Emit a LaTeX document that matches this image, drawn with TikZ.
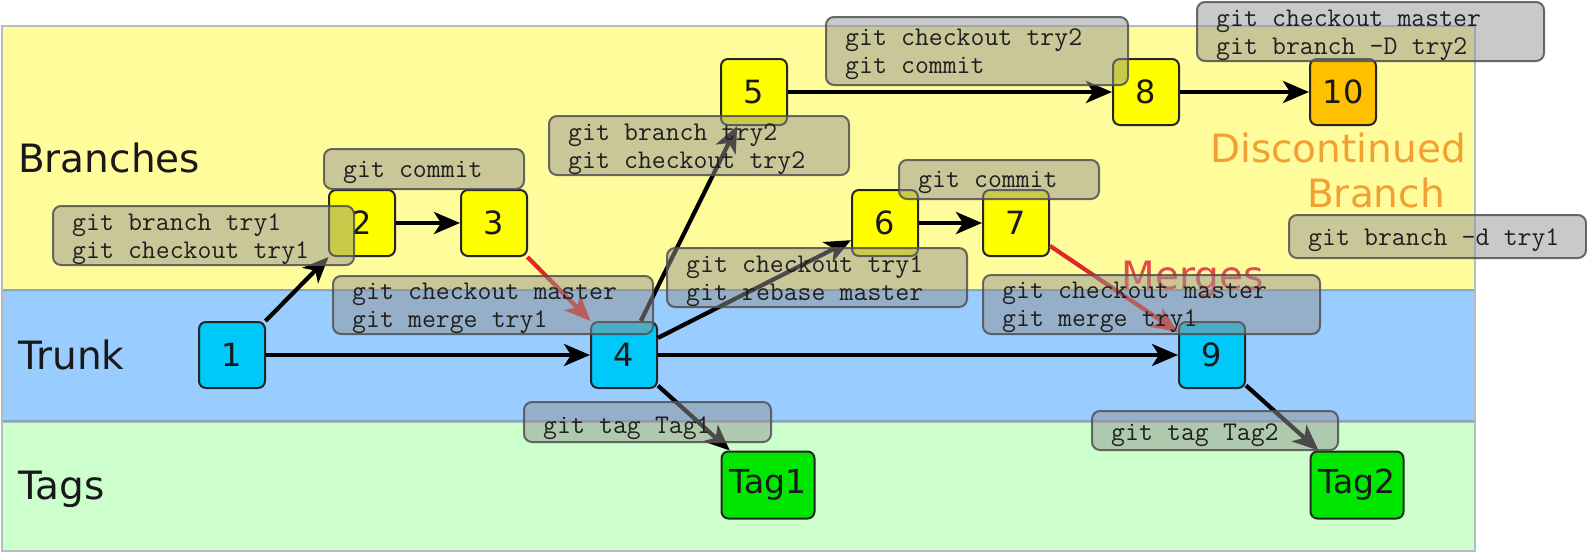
\documentclass[tikz,border=0pt]{standalone}
\usepackage{fontspec}
\newfontfamily\lblfont{DejaVu Sans}
\usetikzlibrary{arrows.meta}
\definecolor{bandY}{HTML}{FFFC9C}
\definecolor{bandB}{HTML}{99CCFF}
\definecolor{bandG}{HTML}{CCFFCC}
\definecolor{bandline}{HTML}{B4BCC0}
\definecolor{bandsep}{HTML}{84A6C8}
\definecolor{nodeY}{HTML}{FFFF00}
\definecolor{nodeC}{HTML}{00C8F8}
\definecolor{nodeO}{HTML}{FFC000}
\definecolor{nodeG}{HTML}{00E600}
\definecolor{cmdfill}{HTML}{949494}
\definecolor{cmdline}{HTML}{505050}
\definecolor{discol}{HTML}{F2A033}
\definecolor{mergecol}{HTML}{E02828}
\definecolor{mergetext}{HTML}{E84848}
\newcommand\monospaces{\spaceskip 14.2pt\relax}
\newcommand\cmdfontsel{\ttfamily\fontsize{27}{28}\selectfont\monospaces}
\tikzset{
  band/.style={draw=bandline, line width=1.5pt},
  bandsepline/.style={draw=bandsep, line width=2.5pt},
  lbl/.style={anchor=base west, inner sep=0pt, font=\lblfont\fontsize{39}{42}\selectfont, text=black!90},
  note/.style={anchor=base, inner sep=0pt, font=\lblfont\fontsize{39}{42}\selectfont},
  commit/.style={draw=black!85, line width=2pt, rounded corners=7pt, minimum width=66pt,
    minimum height=66pt, inner sep=0pt, font=\lblfont\fontsize{32}{36}\selectfont, text=black!90},
  tagnode/.style={commit, minimum width=93pt, minimum height=67pt, font=\lblfont\fontsize{33}{36}\selectfont},
  conn/.style={line width=4.2pt, draw=black, -{Stealth[length=26pt,width=22pt,inset=7pt]}},
  mergeconn/.style={conn, draw=mergecol},
  cmd/.style={draw=cmdline, line width=2pt, rounded corners=8pt, fill=cmdfill,
    fill opacity=0.5, draw opacity=0.85, anchor=north west, inner sep=0pt},
  cmdtext/.style={anchor=north west, inner sep=0pt, align=left, text=black!88, font=\cmdfontsel}
}
% #1 name, #2 x, #3 y, #4 w, #5 h, #6 text top, #7 text
\newcommand\cmdnote[7]{%
  \node[cmd, minimum width=#4pt, minimum height=#5pt] (#1) at (#2,#3) {};
  \node[cmdtext] (#1t) at (#2+20,#6) {\strut #7};
}
\begin{document}
\begin{tikzpicture}[x=1pt,y=-1pt]
\useasboundingbox (0,0) rectangle (1587,552);
% bands
\path[band, fill=bandY] (2,26) rectangle (1475,291);
\path[band, fill=bandB] (2,291) rectangle (1475,422);
\path[band, fill=bandG] (2,422) rectangle (1475,551);
\path[bandsepline] (3,290) -- (1474,290);
\path[bandsepline] (3,421) -- (1474,421);
% lane labels
\node[lbl] (lbranches) at (18,172) {Branches};
\node[lbl] (ltrunk) at (18,369) {Trunk};
\node[lbl] (ltags) at (18,499) {Tags};
\node[note, text=discol] (ldisc) at (1338,162) {Discontinued};
\node[note, text=discol] (lbranch) at (1376,207) {Branch};
\node[note, text=mergetext] (lmerges) at (1193,289) {Merges};
% commits
\node[commit, fill=nodeC] (n1) at (232,355) {1};
\node[commit, fill=nodeY] (n2) at (362,223) {2};
\node[commit, fill=nodeY] (n3) at (494,223) {3};
\node[commit, fill=nodeC] (n4) at (624,355) {4};
\node[commit, fill=nodeY] (n5) at (754,92) {5};
\node[commit, fill=nodeY] (n6) at (885,223) {6};
\node[commit, fill=nodeY] (n7) at (1016,223) {7};
\node[commit, fill=nodeY] (n8) at (1146,92) {8};
\node[commit, fill=nodeC] (n9) at (1212,355) {9};
\node[commit, fill=nodeO] (n10) at (1343,92) {10};
\node[tagnode, fill=nodeG] (t1) at (768,485) {Tag1};
\node[tagnode, fill=nodeG] (t2) at (1357,485) {Tag2};
% connectors
\draw[conn] (n1) -- (n2);
\draw[conn] (n1) -- (n4);
\draw[conn] (n2) -- (n3);
\draw[mergeconn] (n3) -- (n4);
\draw[conn] (n4) -- (n5);
\draw[conn] (n4) -- (n6);
\draw[conn] (n4) -- (n9);
\draw[conn] (n4) -- (t1);
\draw[conn] (n5) -- (n8);
\draw[conn] (n8) -- (n10);
\draw[conn] (n6) -- (n7);
\draw[mergeconn] (n7) -- (n9);
\draw[conn] (n9) -- (t2);
% command boxes
\cmdnote{c1}{52}{205}{301}{59}{210.4}{git branch try1\\git checkout try1}
\cmdnote{c2}{323}{148}{200}{40}{157.4}{git commit}
\cmdnote{c3}{548}{115}{300}{59}{120.4}{git branch try2\\git checkout try2}
\cmdnote{c4}{332}{275}{320}{58}{279.4}{git checkout master\\git merge try1}
\cmdnote{c5}{666}{247}{300}{59}{252.4}{git checkout try1\\git rebase master}
\cmdnote{c6}{825}{16}{302}{68}{25.4}{git checkout try2\\git commit}
\cmdnote{c7}{1196}{1}{347}{59}{6.4}{git checkout master\\git branch -D try2}
\cmdnote{c8}{898}{159}{200}{39}{167.4}{git commit}
\cmdnote{c9}{1288}{214}{297}{43}{225.4}{git branch -d try1}
\cmdnote{c10}{982}{274}{337}{59}{278.4}{git checkout master\\git merge try1}
\cmdnote{c11}{523}{401}{247}{40}{413.4}{git tag Tag1}
\cmdnote{c12}{1091}{410}{246}{39}{420.4}{git tag Tag2}
\end{tikzpicture}
\end{document}
